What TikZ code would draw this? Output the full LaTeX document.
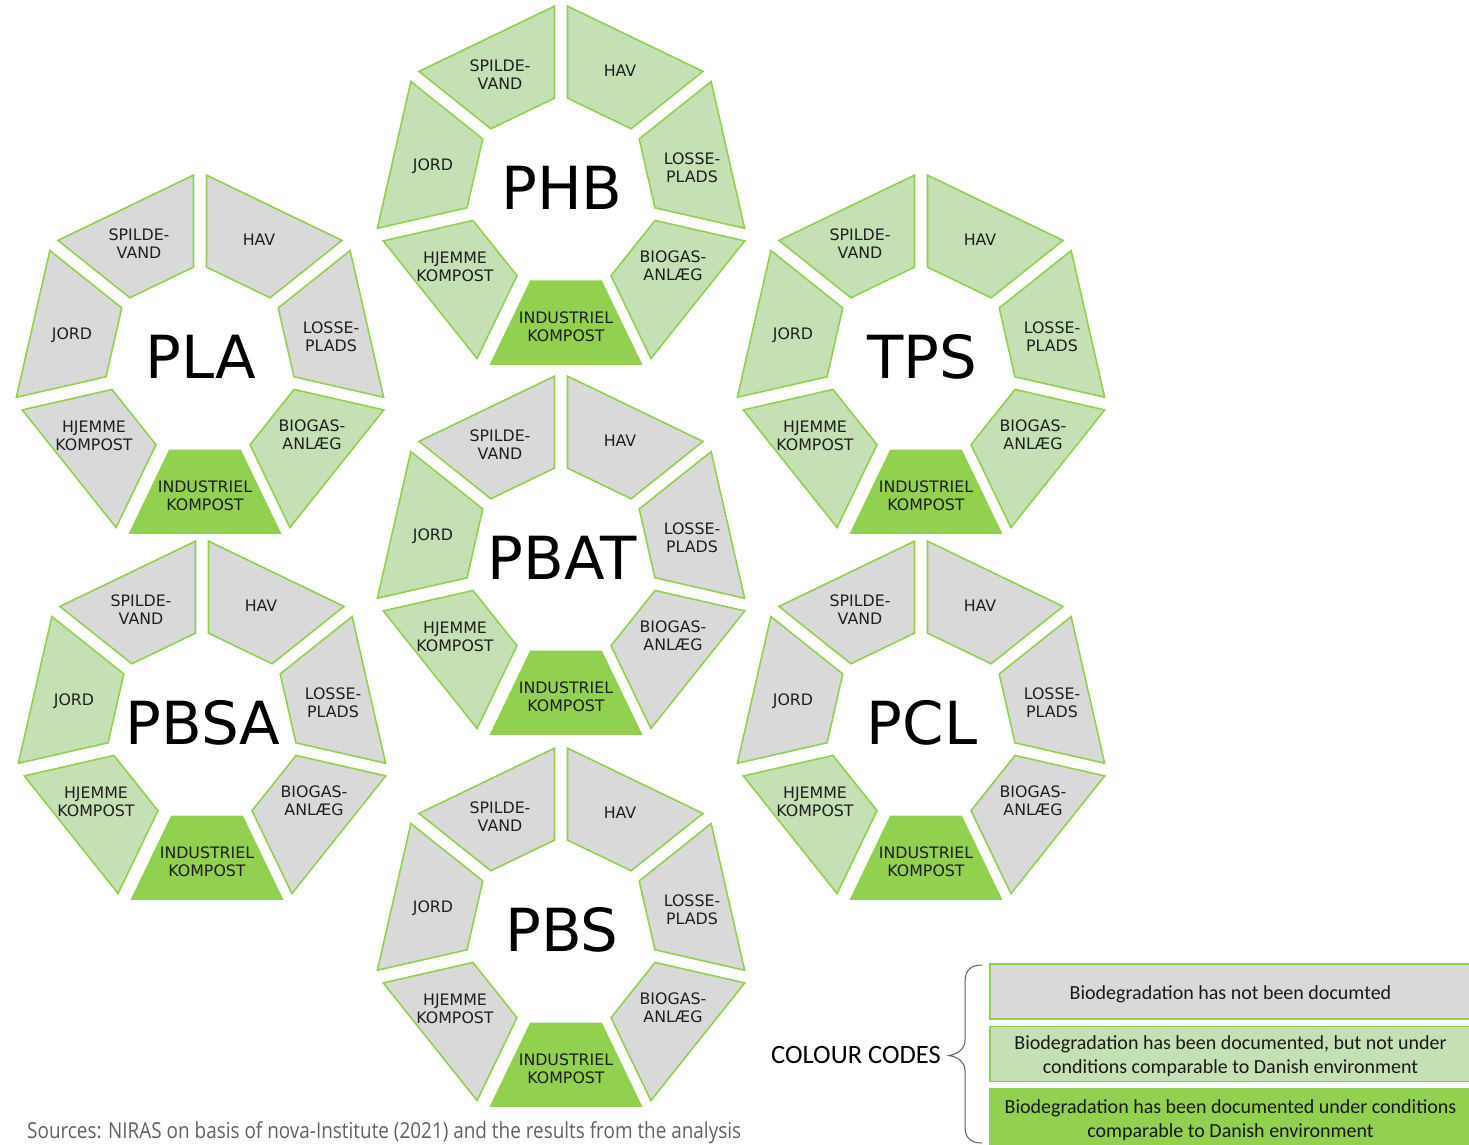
\documentclass[tikz,border=0pt]{standalone}
\usepackage{fontspec}
\newfontfamily\segfont{DejaVu Sans}
\newfontfamily\legfont{Carlito}
\newfontfamily\srcfont[FakeStretch=0.86]{Open Sans}

\definecolor{notdoc}{HTML}{D9D9D9}
\definecolor{partdoc}{HTML}{C5E0B4}
\definecolor{fulldoc}{HTML}{92D050}
\definecolor{segline}{HTML}{92D050}
\definecolor{bracecol}{HTML}{5A5A5A}

\tikzset{
  ringseg/.style={draw=segline, line width=1.6pt, line join=miter},
  seglabel/.style={font=\segfont\fontsize{15.8}{18}\selectfont, align=center, inner sep=0pt, text=black!88},
  ringtitle/.style={font=\segfont\fontsize{59.4}{60}\selectfont, inner sep=0pt},
  legendbox/.style={draw=segline, line width=1.6pt, minimum width=481, minimum height=55},
  legendtext/.style={font=\legfont\fontsize{20}{24}\selectfont, align=center, inner sep=0pt, text=black!90},
}

% ring geometry: outer radius, inner radius, offset along the edges for the gaps
\newcommand{\ringR}{190}
\newcommand{\ringr}{98}
\newcommand{\ringd}{7.2}

% #1 id, #2 cx, #3 cy, #4 polymer, #5 fill colours in the order
% SPILDEVAND, JORD, HJEMME, INDUSTRIEL, BIOGAS, LOSSEPLADS, HAV
\newcommand{\biodegring}[5]{%
  \begin{scope}[shift={(#2,#3)}]
    \foreach \col [count=\k from 0] in {#5} {
      \pgfmathsetmacro\angA{90+\k*360/7}
      \pgfmathsetmacro\angB{\angA+360/7}
      \pgfmathsetmacro\angM{\angA+180/7}
      \pgfmathsetmacro\ux{-sin(\angM)}
      \pgfmathsetmacro\uy{cos(\angM)}
      \pgfmathsetmacro\segdx{{0,0,3,5,3,0,0}[\k]}
      \pgfmathsetmacro\pax{\ringR*cos(\angA)+\ringd*\ux+\segdx}
      \pgfmathsetmacro\pay{-(\ringR*sin(\angA)+\ringd*\uy)}
      \pgfmathsetmacro\pbx{\ringR*cos(\angB)-\ringd*\ux+\segdx}
      \pgfmathsetmacro\pby{-(\ringR*sin(\angB)-\ringd*\uy)}
      \pgfmathsetmacro\pcx{\ringr*cos(\angB)-\ringd*\ux+\segdx}
      \pgfmathsetmacro\pcy{-(\ringr*sin(\angB)-\ringd*\uy)}
      \pgfmathsetmacro\pdx{\ringr*cos(\angA)+\ringd*\ux+\segdx}
      \pgfmathsetmacro\pdy{-(\ringr*sin(\angA)+\ringd*\uy)}
      \filldraw[ringseg, fill=\col] (\pax,\pay) -- (\pbx,\pby) -- (\pcx,\pcy) -- (\pdx,\pdy) -- cycle;
    }
    \node[ringtitle] (#1-title) at (1,-5) {#4};
    \node[seglabel] (#1-spilde) at (-61,-118) {SPILDE-\\VAND};
    \node[seglabel] (#1-hav) at (59,-122) {HAV};
    \node[seglabel] (#1-losse) at (131,-25) {LOSSE-\\PLADS};
    \node[seglabel] (#1-biogas) at (112,73) {BIOGAS-\\ANLÆG};
    \node[seglabel] (#1-industri) at (5,134) {INDUSTRIEL\\KOMPOST};
    \node[seglabel] (#1-hjemme) at (-106,74) {HJEMME\\KOMPOST};
    \node[seglabel] (#1-jord) at (-128,-27) {JORD};
  \end{scope}
}

\begin{document}
\begin{tikzpicture}[x=1pt, y=-1pt]
  \useasboundingbox (0,0) rectangle (1469,1144);
  \clip (0,0) rectangle (1469,1144);

  \biodegring{phb}{561}{193}{PHB}{partdoc,partdoc,partdoc,fulldoc,partdoc,partdoc,partdoc}
  \biodegring{pla}{200}{362}{PLA}{notdoc,notdoc,notdoc,fulldoc,partdoc,notdoc,notdoc}
  \biodegring{tps}{921}{362}{TPS}{partdoc,partdoc,partdoc,fulldoc,partdoc,partdoc,partdoc}
  \biodegring{pbat}{561}{563}{PBAT}{notdoc,partdoc,partdoc,fulldoc,notdoc,notdoc,notdoc}
  \biodegring{pbsa}{202}{728}{PBSA}{notdoc,partdoc,partdoc,fulldoc,notdoc,notdoc,notdoc}
  \biodegring{pcl}{921}{728}{PCL}{notdoc,notdoc,partdoc,fulldoc,notdoc,notdoc,notdoc}
  \biodegring{pbs}{561}{935}{PBS}{notdoc,notdoc,notdoc,fulldoc,notdoc,notdoc,notdoc}

  % colour key: boxes, then their texts
  \node[legendbox, fill=notdoc] (key-none) at (1230.5,991.5) {};
  \node[legendbox, fill=partdoc] (key-part) at (1230.5,1054) {};
  \node[legendbox, fill=fulldoc, minimum height=57] (key-full) at (1230.5,1117.5) {};
  \node[legendtext] (key-none-text) at ([yshift=-2.5pt]key-none.center)
    {Biodegradation has not been documted};
  \node[legendtext] (key-part-text) at ([yshift=-2.5pt]key-part.center)
    {Biodegradation has been documented, but not under\\conditions comparable to Danish environment};
  \node[legendtext] (key-full-text) at ([yshift=-3pt]key-full.center)
    {Biodegradation has been documented under conditions\\comparable to Danish environment};

  \node[anchor=base west, inner sep=0pt, font=\legfont\fontsize{26.5}{30}\selectfont] (key-title)
    at (771,1063.3) {COLOUR CODES};

  % brace gathering the three key boxes
  \coordinate (brace-top) at (982,965);
  \coordinate (brace-tip) at (949,1055.5);
  \coordinate (brace-bot) at (982,1143);
  \draw[bracecol, line width=1pt]
    (brace-top) .. controls (971,965) and (965,970) .. (965,982)
    -- (965,1040) .. controls (965,1049) and (958,1054) .. (brace-tip)
    .. controls (958,1057) and (965,1062) .. (965,1071)
    -- (965,1127) .. controls (965,1138) and (971,1143) .. (brace-bot);

  \node[anchor=base west, inner sep=0pt, font=\srcfont\fontsize{22}{26}\selectfont, text=black!62] (sources)
    at (27,1138) {Sources: NIRAS on basis of nova-Institute (2021) and the results from the analysis};
\end{tikzpicture}
\end{document}
